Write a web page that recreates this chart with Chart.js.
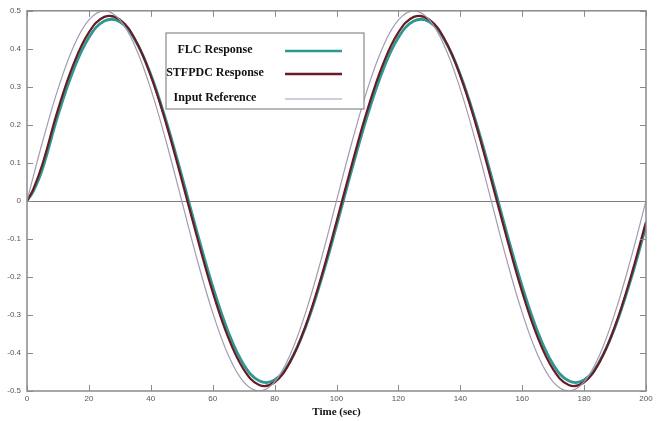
<!DOCTYPE html>
<html>
<head>
<meta charset="utf-8">
<script src="https://cdn.jsdelivr.net/npm/chart.js@4/dist/chart.umd.min.js"></script>
<style>
   html, body { margin: 0; padding: 0; background: #fff; }
   #wrap { width: 657px; height: 421px; }
</style>
</head>
<body>
<div id="wrap"><canvas id="respChart" width="657" height="421"></canvas></div>
<script>
// time samples (sec)
const timeSec = [0, 2, 5, 10, 15, 20, 25, 30, 35, 40, 45, 50, 55, 60, 65, 70, 75, 80, 85, 90, 95, 100,
   105, 110, 115, 120, 125, 130, 135, 140, 145, 150, 155, 160, 165, 170, 175, 180, 185, 190, 195, 200];

const flcResponse = [0, 0.025, 0.084, 0.225, 0.344, 0.430, 0.473, 0.471, 0.422, 0.332, 0.209, 0.066,
   -0.084, -0.225, -0.344, -0.430, -0.473, -0.471, -0.422, -0.332, -0.209, -0.066,
   0.084, 0.225, 0.344, 0.430, 0.473, 0.471, 0.422, 0.332, 0.209, 0.066,
   -0.084, -0.225, -0.344, -0.430, -0.473, -0.471, -0.422, -0.332, -0.209, -0.066];

const stfpdcResponse = [0, 0.030, 0.097, 0.240, 0.359, 0.443, 0.484, 0.477, 0.424, 0.329, 0.202, 0.055,
   -0.097, -0.240, -0.359, -0.443, -0.484, -0.477, -0.424, -0.329, -0.202, -0.055,
   0.097, 0.240, 0.359, 0.443, 0.484, 0.477, 0.424, 0.329, 0.202, 0.055,
   -0.097, -0.240, -0.359, -0.443, -0.484, -0.477, -0.424, -0.329, -0.202, -0.055];

const inputReference = [0, 0.063, 0.155, 0.294, 0.405, 0.476, 0.5, 0.476, 0.405, 0.294, 0.155, 0,
   -0.155, -0.294, -0.405, -0.476, -0.5, -0.476, -0.405, -0.294, -0.155, 0,
   0.155, 0.294, 0.405, 0.476, 0.5, 0.476, 0.405, 0.294, 0.155, 0,
   -0.155, -0.294, -0.405, -0.476, -0.5, -0.476, -0.405, -0.294, -0.155, 0];

const xTicks = [0, 20, 40, 60, 80, 100, 120, 140, 160, 180, 200];
const yTicks = [-0.5, -0.4, -0.3, -0.2, -0.1, 0, 0.1, 0.2, 0.3, 0.4, 0.5];
const legendLabels = ["FLC Response", "STFPDC Response", "Input Reference"];

const COL_FLC = "#2e9793";
const COL_STF = "#6a1c24";
const COL_REF = "#a39bb3";
const AXIS_GRAY = "#8a8a8a";

const pts = vals => vals.map((v, i) => ({ x: timeSec[i], y: v }));

// box, inward ticks, zero line and the boxed legend
const frameAndLegend = {
   id: "frameAndLegend",
   beforeDatasetsDraw(chart) {
      const { ctx, chartArea: a, scales } = chart;
      ctx.save();
      ctx.strokeStyle = "#7a7a7a";
      ctx.lineWidth = 1;
      const y0 = Math.round(scales.y.getPixelForValue(0)) + 0.5;
      ctx.beginPath();
      ctx.moveTo(a.left, y0);
      ctx.lineTo(a.right, y0);
      ctx.stroke();
      ctx.restore();
   },
   afterDatasetsDraw(chart) {
      const { ctx, chartArea: a, scales } = chart;
      ctx.save();
      ctx.strokeStyle = AXIS_GRAY;
      ctx.lineWidth = 1.5;
      ctx.strokeRect(a.left, a.top, a.right - a.left, a.bottom - a.top);
      ctx.lineWidth = 1;
      ctx.beginPath();
      xTicks.forEach(t => {
         const px = Math.round(scales.x.getPixelForValue(t)) + 0.5;
         ctx.moveTo(px, a.bottom); ctx.lineTo(px, a.bottom - 6);
         ctx.moveTo(px, a.top); ctx.lineTo(px, a.top + 6);
      });
      yTicks.forEach(t => {
         const py = Math.round(scales.y.getPixelForValue(t)) + 0.5;
         ctx.moveTo(a.left, py); ctx.lineTo(a.left + 6, py);
         ctx.moveTo(a.right, py); ctx.lineTo(a.right - 6, py);
      });
      ctx.stroke();

      // legend box
      const bx = 166, by = 33, bw = 198, bh = 76;
      ctx.fillStyle = "#fff";
      ctx.fillRect(bx, by, bw, bh);
      ctx.strokeStyle = "#8a8a8a";
      ctx.lineWidth = 1.2;
      ctx.strokeRect(bx, by, bw, bh);
      const rows = [
         { y: 50, col: COL_FLC, w: 2.6 },
         { y: 73, col: COL_STF, w: 2.6 },
         { y: 98, col: COL_REF, w: 1.2 },
      ];
      ctx.font = "bold 12px 'Liberation Serif', serif";
      ctx.textAlign = "center";
      ctx.textBaseline = "middle";
      rows.forEach((r, i) => {
         ctx.fillStyle = "#111";
         ctx.fillText(legendLabels[i], 215, r.y);
         ctx.strokeStyle = r.col;
         ctx.lineWidth = r.w;
         ctx.beginPath();
         ctx.moveTo(285, r.y + 1);
         ctx.lineTo(342, r.y + 1);
         ctx.stroke();
      });
      ctx.restore();
   },
};

const ctx = document.getElementById("respChart").getContext("2d");
new Chart(ctx, {
   type: "line",
   data: {
      datasets: [
         { label: legendLabels[0], data: pts(flcResponse), borderColor: COL_FLC, borderWidth: 2.8, pointRadius: 0, tension: 0.4, order: 3 },
         { label: legendLabels[1], data: pts(stfpdcResponse), borderColor: COL_STF, borderWidth: 2.2, pointRadius: 0, tension: 0.4, order: 2 },
         { label: legendLabels[2], data: pts(inputReference), borderColor: COL_REF, borderWidth: 1.2, pointRadius: 0, tension: 0.4, order: 1 },
      ],
   },
   options: {
      responsive: false,
      animation: false,
      layout: { padding: { top: 10, right: 11, left: 0, bottom: 0 } },
      plugins: { legend: { display: false }, tooltip: { enabled: false } },
      scales: {
         x: {
            type: "linear",
            min: 0, max: 200,
            afterBuildTicks: s => { s.ticks = xTicks.map(v => ({ value: v })); },
            afterFit: s => { s.height = 30; },
            grid: { display: false, drawTicks: false },
            border: { display: false },
            ticks: { color: "#555", font: { family: "Arial", size: 8 }, padding: 3, maxRotation: 0 },
            title: {
               display: true, text: "Time (sec)", color: "#111",
               font: { family: "'Liberation Serif', serif", size: 11, weight: "bold" },
               padding: { top: 0, bottom: 2 },
            },
         },
         y: {
            min: -0.5, max: 0.5,
            afterBuildTicks: s => { s.ticks = yTicks.map(v => ({ value: v })); },
            afterFit: s => { s.width = 27; },
            grid: { display: false, drawTicks: false },
            border: { display: false },
            ticks: {
               color: "#555", font: { family: "Arial", size: 8 }, padding: 6,
               callback: v => (Math.abs(v) < 1e-9 ? "0" : v.toFixed(1)),
            },
         },
      },
   },
   plugins: [frameAndLegend],
});
</script>
</body>
</html>
